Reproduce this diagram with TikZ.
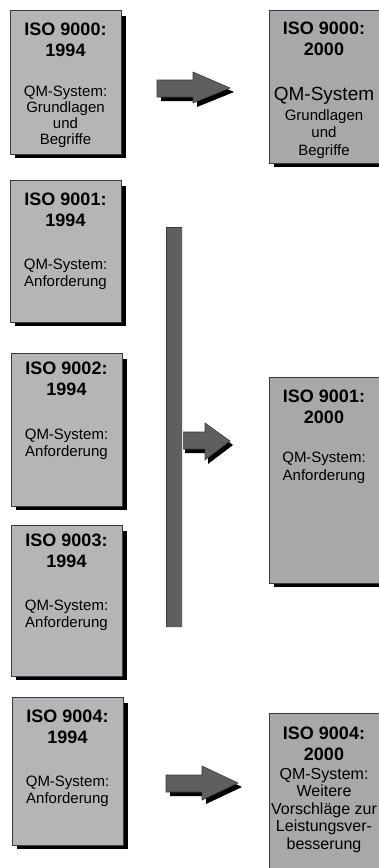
\documentclass[tikz,border=0pt]{standalone}
\usepackage{fontspec}
\setmainfont{Liberation Sans}
\definecolor{boxL}{HTML}{B4B5B6}
\definecolor{boxR}{HTML}{A6A8A9}
\definecolor{arrowgray}{HTML}{5E5F61}
\definecolor{edge}{HTML}{3A3A3A}
\tikzset{
  docshape/.style={draw=edge, line width=0.7pt, inner sep=0pt, anchor=north west},
  titletext/.style={font=\fontsize{18}{20.5}\selectfont\bfseries, align=center, inner sep=0pt, anchor=north},
  bodytext/.style={font=\fontsize{15}{16.5}\selectfont, align=center, inner sep=0pt, anchor=north},
  blockarrow/.style={fill=arrowgray, draw=edge, line width=0.6pt, line join=miter},
  blockshadow/.style={fill=black},
}
% name, left, top, right, bottom, fill
\newcommand\docbox[6]{%
  \fill[black] (#2+5,#3+6) rectangle (#4+5,#5+4);
  \node[docshape, fill=#6, minimum width=#4pt-#2pt, minimum height=#5pt-#3pt] (#1) at (#2,#3) {};
}
\begin{document}
\begin{tikzpicture}[x=1pt,y=-1pt]
\useasboundingbox (0,0) rectangle (379,868);

% ---------- left column ----------
\docbox{L1}{10}{10}{121}{154}{boxL}
\node[titletext] (L1t) at (65.5,23) {ISO 9000:\\1994};
\node[bodytext, font=\fontsize{15}{16}\selectfont] (L1b) at (65.5,86) {QM-System:\\Grundlagen\\und\\Begriffe};

\docbox{L2}{10}{180}{121}{322}{boxL}
\node[titletext] (L2t) at (65.5,193) {ISO 9001:\\1994};
\node[bodytext] (L2b) at (65.5,259) {QM-System:\\Anforderung};

\docbox{L3}{11}{353}{122}{506}{boxL}
\node[titletext] (L3t) at (66.5,362) {ISO 9002:\\1994};
\node[bodytext] (L3b) at (66.5,429) {QM-System:\\Anforderung};

\docbox{L4}{11}{525}{122}{676}{boxL}
\node[titletext] (L4t) at (66.5,534) {ISO 9003:\\1994};
\node[bodytext] (L4b) at (66.5,600) {QM-System:\\Anforderung};

\docbox{L5}{12}{697}{123}{845}{boxL}
\node[titletext] (L5t) at (67.5,710) {ISO 9004:\\1994};
\node[bodytext] (L5b) at (67.5,776) {QM-System:\\Anforderung};

% ---------- right column ----------
\docbox{R1}{269}{10}{380}{163}{boxR}
\node[titletext] (R1t) at (324,22) {ISO 9000:\\2000};
\node[font=\fontsize{19}{20}\selectfont, inner sep=0pt, anchor=base] (R1q) at (324,100) {QM-System};
\node[bodytext, font=\fontsize{15}{17.5}\selectfont] (R1b) at (324,109) {Grundlagen\\und\\Begriffe};

\docbox{R2}{269}{377}{380}{583}{boxR}
\node[titletext] (R2t) at (324,390) {ISO 9001:\\2000};
\node[bodytext, font=\fontsize{15}{17.5}\selectfont] (R2b) at (324,452) {QM-System:\\Anforderung};

\docbox{R3}{269}{713}{380}{880}{boxR}
\node[titletext] (R3t) at (324,727) {ISO 9004:\\2000};
\node[bodytext, font=\fontsize{16}{17.5}\selectfont] (R3b) at (324,768) {QM-System:\\Weitere\\Vorschläge zur\\Leistungsver-\\besserung};

% ---------- arrow 1 ----------
\fill[blockshadow, shift={(4,4)}] (157,80) -- (193,80) -- (193,72) -- (230,88) -- (193,103) -- (193,97) -- (157,97) -- cycle;
\draw[blockarrow] (157,80) -- (193,80) -- (193,72) -- (230,88) -- (193,103) -- (193,97) -- (157,97) -- cycle;

% ---------- bar + arrow 2 ----------
\fill[blockshadow, shift={(3,4)}] (182,432) -- (205,432) -- (205,423) -- (230,441) -- (205,460) -- (205,449) -- (182,449) -- cycle;
\draw[blockarrow] (182,432) -- (205,432) -- (205,423) -- (230,441) -- (205,460) -- (205,449) -- (182,449) -- cycle;
\draw[blockarrow] (166,227) rectangle (182,627);
\draw[white!80!gray, line width=0.8pt] (182.8,227) -- (182.8,627.5) -- (166,627.5);

% ---------- arrow 3 ----------
\fill[blockshadow, shift={(4,4)}] (166,775) -- (202,775) -- (202,766) -- (238,783) -- (202,800) -- (202,792) -- (166,792) -- cycle;
\draw[blockarrow] (166,775) -- (202,775) -- (202,766) -- (238,783) -- (202,800) -- (202,792) -- (166,792) -- cycle;
\end{tikzpicture}
\end{document}
